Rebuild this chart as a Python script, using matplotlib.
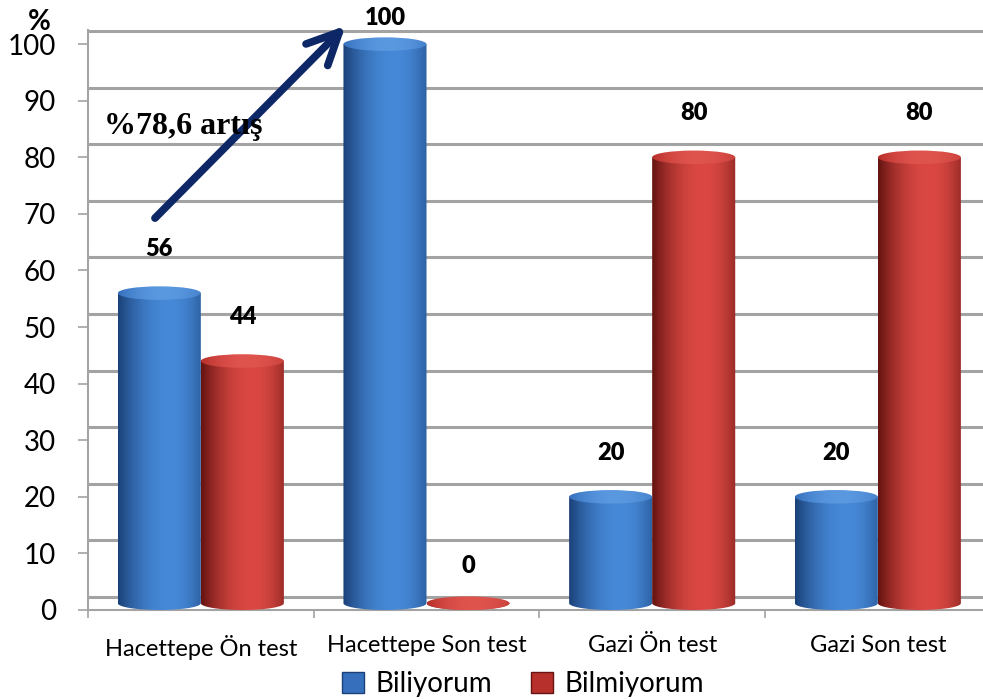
import numpy as np
import matplotlib
matplotlib.use("Agg")
from matplotlib import pyplot as plt
import matplotlib.colors as mcolors
from matplotlib.path import Path
from matplotlib.patches import PathPatch, Ellipse, Patch

categories = ["Hacettepe Ön test", "Hacettepe Son test", "Gazi Ön test", "Gazi Son test"]
biliyorum = [56, 100, 20, 20]
bilmiyorum = [44, 0, 80, 80]
series_names = ["Biliyorum", "Bilmiyorum"]
yticks = list(range(0, 101, 10))

plt.rcParams["font.family"] = ["Lato", "DejaVu Sans"]

BLUE = ("#1b4178", "#4689d8", "#3670bd", "#5a98e0")
RED = ("#651411", "#db4843", "#b8302b", "#e0544e")
GRID = "#a3a3a3"


def gradient(dark, light, n=80, peak=0.62):
    t = np.linspace(0, 1, n)
    s = np.where(t < peak, 1 - ((peak - t) / peak) ** 2,
                 1 - 0.55 * ((t - peak) / (1 - peak)) ** 2)
    d = np.array(mcolors.to_rgb(dark))
    l = np.array(mcolors.to_rgb(light))
    return (d + (l - d) * s[:, None])[None, :, :]


def cylinder(ax, fig, xc, w, v, colors, eh=2.4, base=1.2):
    dark, light, cap_dark, cap_light = colors
    x0, x1 = xc - w / 2, xc + w / 2
    theta = np.linspace(np.pi, 2 * np.pi, 50)
    bx = xc + w / 2 * np.cos(theta)
    by = base + eh / 2 * np.sin(theta)
    top = max(v, base)
    verts = [(x0, top)] + list(zip(bx, by)) + [(x1, top), (x0, top)]
    codes = [Path.MOVETO] + [Path.LINETO] * (len(verts) - 2) + [Path.CLOSEPOLY]
    body = PathPatch(Path(verts, codes), transform=ax.transData,
                     facecolor="none", edgecolor="none")
    ax.add_patch(body)
    im = ax.imshow(gradient(dark, light), extent=(x0, x1, base - eh / 2, top),
                   aspect="auto", origin="lower", zorder=3, interpolation="bilinear")
    im.set_clip_path(body)
    im.set_clip_box(fig.bbox)
    cap = Ellipse((xc, top), w, eh, transform=ax.transData,
                  facecolor="none", edgecolor="none")
    ax.add_patch(cap)
    im2 = ax.imshow(gradient(cap_dark, cap_light, peak=0.55),
                    extent=(x0, x1, top - eh / 2, top + eh / 2),
                    aspect="auto", origin="lower", zorder=4, interpolation="bilinear")
    im2.set_clip_path(cap)
    im2.set_clip_box(fig.bbox)


fig = plt.figure(figsize=(9.83, 7), dpi=100)
ax = fig.add_axes([88 / 983, 90 / 700, 895 / 983, 580 / 700])

x = np.arange(len(categories))
w = 0.368
for i in range(len(categories)):
    cylinder(ax, fig, x[i] - w / 2, w, biliyorum[i], BLUE)
    cylinder(ax, fig, x[i] + w / 2, w, bilmiyorum[i], RED)

# back-wall gridlines (3D offset)
for t in yticks:
    ax.axhline(t + 2.3, color=GRID, lw=2.2, zorder=1)

ax.set_xlim(-0.5, 3.466)
ax.set_ylim(0, 102.5)

ax.set_yticks(yticks)
ax.tick_params(axis="y", length=7, width=1.2, color=GRID, pad=16, labelsize=20)
ax.set_xticks(x)
ax.set_xticklabels(categories)
ax.tick_params(axis="x", which="major", length=0, pad=18, labelsize=17)
ax.set_xticks([-0.5, 0.5, 1.5, 2.5], minor=True)
ax.tick_params(axis="x", which="minor", length=6, width=1.2, color=GRID)

for s in ["top", "right"]:
    ax.spines[s].set_visible(False)
for s in ["left", "bottom"]:
    ax.spines[s].set_color(GRID)
    ax.spines[s].set_linewidth(1.5)

for i in range(len(categories)):
    for v, off in ((biliyorum[i], -w / 2), (bilmiyorum[i], w / 2)):
        ax.text(x[i] + off, min(v + 7.8, 104.6), str(v), ha="center", va="center",
                fontsize=17, fontweight="heavy", clip_on=False)

# increase arrow from Hacettepe Ön test to Son test
ax.annotate("", xy=(0.65, 103.6), xytext=(-0.212, 68.9),
            arrowprops=dict(arrowstyle="->,head_length=1.15,head_width=0.55",
                            lw=5.5, color="#0e2767", mutation_scale=20),
            annotation_clip=False)
ax.text(-0.43, 85.5, "%78,6 artış", family=["Liberation Serif"], fontsize=23,
        fontweight="bold", ha="left", va="center")
fig.text(39 / 983, 1 - 22 / 700, "%", fontsize=20, fontweight="bold",
         ha="center", va="center")

handles = [Patch(facecolor=BLUE[2], edgecolor=BLUE[0]),
           Patch(facecolor=RED[2], edgecolor=RED[0])]
fig.legend(handles, series_names, loc="lower center", ncol=2,
           bbox_to_anchor=(523 / 983, -0.032), frameon=False, fontsize=20,
           handlelength=0.8, handleheight=0.8, handletextpad=0.4, columnspacing=1.4)

fig.savefig("out.png", dpi=100)
